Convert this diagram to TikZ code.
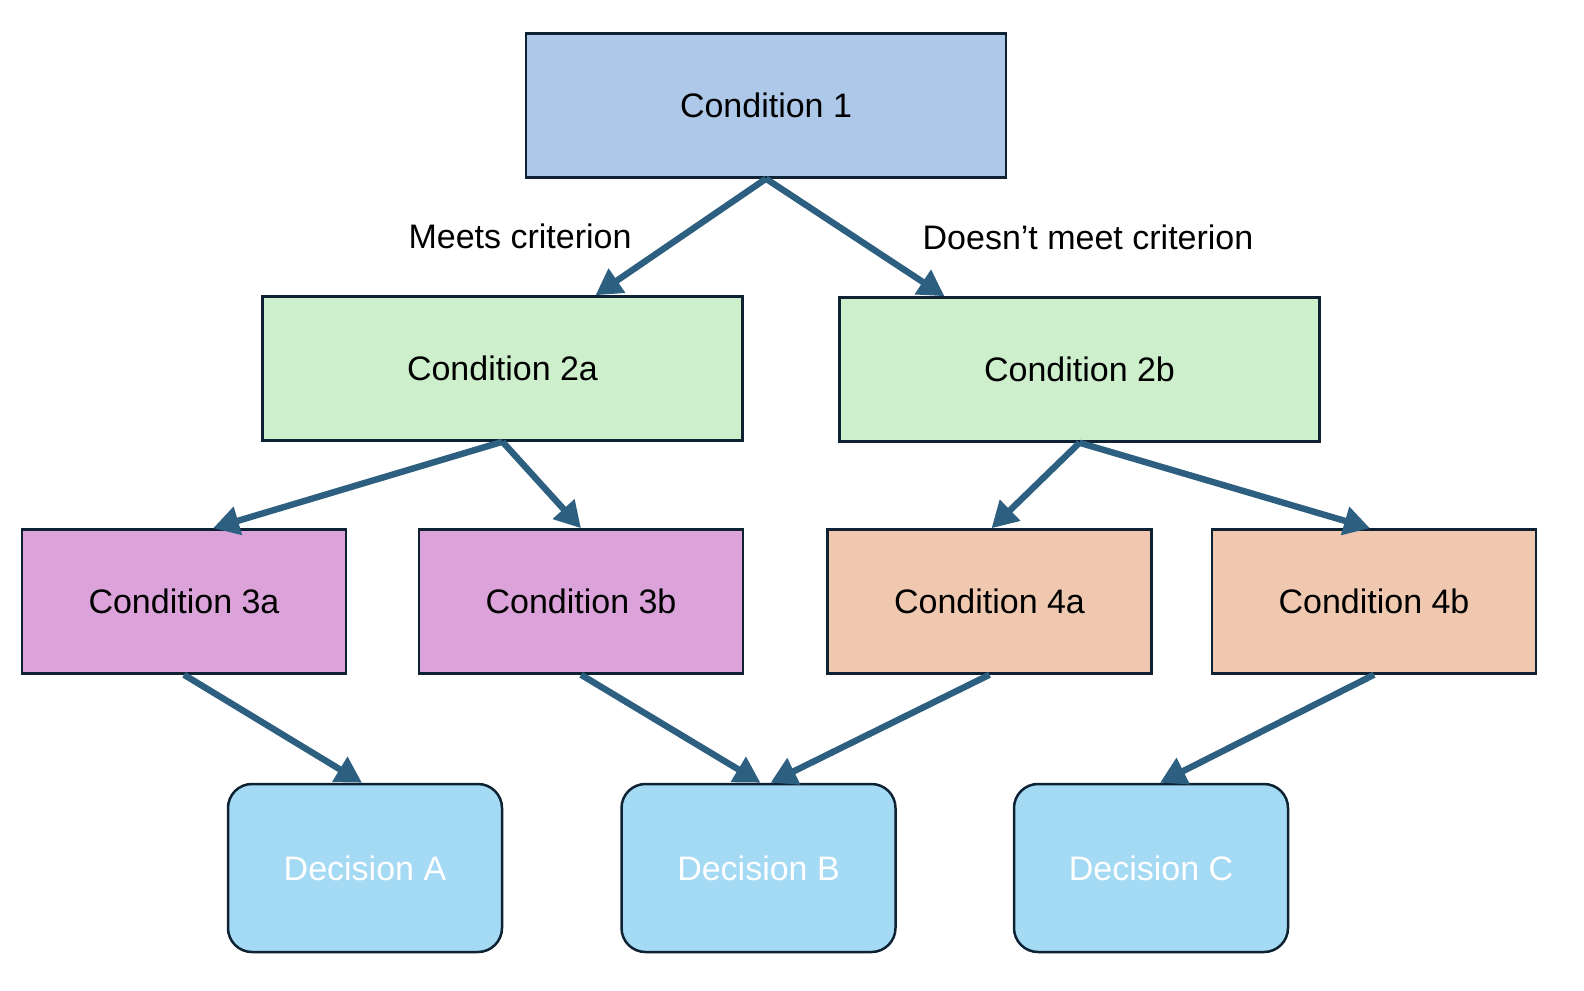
\documentclass[tikz,border=0pt]{standalone}
\usepackage{fontspec}
\setmainfont{Liberation Sans}
\usetikzlibrary{arrows.meta,calc}
\definecolor{bordercol}{HTML}{0E2233}
\definecolor{arrowcol}{HTML}{2D5F80}
\definecolor{topfill}{HTML}{ADC8E8}
\definecolor{greenfill}{HTML}{CDEFCC}
\definecolor{purplefill}{HTML}{DBA3D9}
\definecolor{peachfill}{HTML}{EFC8AF}
\definecolor{decfill}{HTML}{A5DAF4}
\tikzset{
  box/.style={draw=bordercol, line width=1.25pt, minimum width=240pt, minimum height=72pt, inner sep=0pt, font=\fontsize{17}{20}\selectfont, text=black},
  smallbox/.style={box, minimum width=162pt},
  decbox/.style={draw=bordercol, line width=1.25pt, rounded corners=12pt, fill=decfill, minimum width=137pt, minimum height=84pt, inner sep=0pt, font=\fontsize{17}{20}\selectfont, text=white},
  conn/.style={draw=arrowcol, line width=3.2pt, -{Triangle[length=13pt,width=14pt]}},
  lbl/.style={font=\fontsize{17}{20}\selectfont, text=black, inner sep=0pt}
}
\begin{document}
\begin{tikzpicture}[x=0.5pt,y=-0.5pt]
\useasboundingbox (0,0) rectangle (1584,990);
\node[box, fill=topfill] (c1) at (766,105.5) {Condition 1};
\node[box, fill=greenfill] (c2a) at (502.5,368.5) {Condition 2a};
\node[box, fill=greenfill] (c2b) at (1079.5,369.5) {Condition 2b};
\node[smallbox, fill=purplefill] (c3a) at (184,601.5) {Condition 3a};
\node[smallbox, fill=purplefill] (c3b) at (581,601.5) {Condition 3b};
\node[smallbox, fill=peachfill] (c4a) at (989.5,601.5) {Condition 4a};
\node[smallbox, fill=peachfill] (c4b) at (1374,601.5) {Condition 4b};
\node[decbox] (da) at (365,868) {Decision A};
\node[decbox] (db) at (758.5,868) {Decision B};
\node[decbox] (dc) at (1151,868) {Decision C};
\node[lbl] (l1) at (520,236) {Meets criterion};
\node[lbl] (l2) at (1088,237) {Doesn’t meet criterion};
\draw[conn] (c1.south) -- ([xshift=46.5pt]c2a.north);
\draw[conn] (c1.south) -- ([xshift=-67.5pt]c2b.north);
\draw[conn] (c2a.south) -- ([xshift=14.5pt]c3a.north);
\draw[conn] (c2a.south) -- (c3b.north);
\draw[conn] (c2b.south) -- ([xshift=1pt]c4a.north);
\draw[conn] (c2b.south) -- ([xshift=-2pt]c4b.north);
\draw[conn] (c3a.south) -- ([xshift=-1.5pt]da.north);
\draw[conn] (c3b.south) -- ([xshift=1pt]db.north);
\draw[conn] (c4a.south) -- ([xshift=6pt]db.north);
\draw[conn] (c4b.south) -- ([xshift=4.5pt]dc.north);
\end{tikzpicture}
\end{document}
